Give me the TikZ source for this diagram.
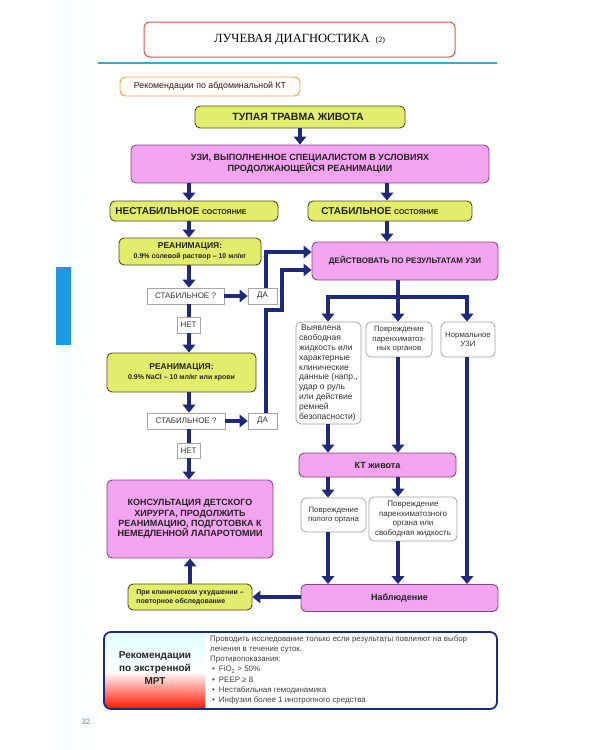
\documentclass[tikz,border=0pt]{standalone}
\usepackage{fontspec}
\setmainfont{Liberation Sans}
\newfontfamily\titlefont{Liberation Serif}
\usetikzlibrary{arrows.meta}
\definecolor{navy}{HTML}{1F2B7A}
\definecolor{yelfill}{HTML}{E3ED6C}
\definecolor{yeldraw}{HTML}{4E4E1C}
\definecolor{pinkfill}{HTML}{F3A4EF}
\definecolor{pinkdraw}{HTML}{84468A}
\definecolor{tabblue}{HTML}{1A9AE0}
\definecolor{lineblue}{HTML}{2EA8DE}
\definecolor{titlered}{HTML}{D9534F}
\definecolor{recorange}{HTML}{EFA35A}
\definecolor{txt}{HTML}{222222}
\newcommand\fs[2]{\fontsize{#1}{#2}\selectfont}
\begin{document}
\begin{tikzpicture}[x=1pt,y=-1pt,
  box/.style={inner sep=0pt, align=center, text=txt},
  yel/.style={box, fill=yelfill, draw=yeldraw, line width=0.9pt, rounded corners=5pt},
  pnk/.style={box, fill=pinkfill, draw=pinkdraw, line width=0.9pt, rounded corners=5pt},
  wb/.style={box, fill=white, draw=gray!75, line width=0.7pt, rounded corners=5pt, text=black!80},
  sq/.style={box, fill=white, draw=gray!70, line width=0.7pt, text=black!80},
  arr/.style={draw=navy, line width=3.6pt, -{Triangle[width=12.5pt,length=8pt]}},
  ln/.style={draw=navy, line width=3.6pt}]
\useasboundingbox (0,0) rectangle (600,750);
% page tint and tab
\shade[left color=blue!4!cyan!4, right color=white] (55,0) rectangle (100,750);
\fill[tabblue] (56,267) rectangle (71,345);
\node[text=gray, font=\fs{8}{9}] (pg) at (86,722) {32};
% header
\node[draw=titlered, line width=1pt, rounded corners=6pt, minimum width=311pt, minimum height=35pt, inner sep=0pt, fill=white] (title) at (299.5,39.5)
  {\titlefont\fs{12.5}{14}ЛУЧЕВАЯ ДИАГНОСТИКА\hspace{6pt}{\fs{8}{9}(2)}};
\draw[lineblue, line width=2pt] (98,63) -- (497,63);
\node[draw=recorange, fill=orange!3, line width=0.9pt, rounded corners=6pt, minimum width=180pt, minimum height=19pt, inner sep=0pt, font=\fs{8.8}{10}, text=txt] (rec) at (210,86.5) {Рекомендации по абдоминальной КТ};
% guides
\coordinate (xl) at (189,0);
\coordinate (xr) at (387,0);
\coordinate (xa) at (328,0);
\coordinate (xb) at (398,0);
\coordinate (xc) at (467,0);
\coordinate (xd) at (266,0);
\coordinate (xe) at (282,0);
\coordinate (ya) at (0,252);
\coordinate (yb) at (0,270);
\coordinate (yj) at (0,310);
\coordinate (ybr) at (0,297);
% nodes
\node[yel, minimum width=210pt, minimum height=22pt, font=\bfseries\fs{10.5}{12}] (tup) at (300,117) {ТУПАЯ ТРАВМА ЖИВОТА\kern4pt};
\node[pnk, minimum width=358pt, minimum height=38pt, font=\bfseries\fs{9}{11.5}] (uzi) at (310,164) {УЗИ, ВЫПОЛНЕННОЕ СПЕЦИАЛИСТОМ В УСЛОВИЯХ\\ПРОДОЛЖАЮЩЕЙСЯ РЕАНИМАЦИИ};
\node[yel, minimum width=168pt, minimum height=20pt, font=\bfseries\fs{10}{12}] (nestab) at (194,211) {НЕСТАБИЛЬНОЕ {\fs{7}{8}СОСТОЯНИЕ}\kern26pt};
\node[yel, minimum width=164pt, minimum height=20pt, font=\bfseries\fs{10}{12}] (stab) at (390,211) {СТАБИЛЬНОЕ {\fs{7}{8}СОСТОЯНИЕ}\kern20pt};
\node[yel, minimum width=142pt, minimum height=27pt, font=\bfseries\fs{7}{9.5}] (rean1) at (190,251.5) {{\fs{8.5}{10}РЕАНИМАЦИЯ:}\\0.9\% солевой раствор – 10 мл/кг};
\node[sq, minimum width=77pt, minimum height=16pt, font=\fs{8}{9}] (q1) at (185.5,296) {СТАБИЛЬНОЕ ?};
\node[sq, minimum width=29pt, minimum height=16pt, font=\fs{8}{9}] (da1) at (262.5,296) {ДА};
\node[sq, minimum width=23pt, minimum height=16pt, font=\fs{8}{9}] (net1) at (188.5,325) {НЕТ};
\node[yel, minimum width=149pt, minimum height=39pt, font=\bfseries\fs{7}{9.5}] (rean2) at (181.5,372.5) {{\fs{8.5}{10}РЕАНИМАЦИЯ:}\\0.9\% NaCl – 10 мл/кг или крови};
\node[sq, minimum width=78pt, minimum height=16pt, font=\fs{8}{9}] (q2) at (186,421) {СТАБИЛЬНОЕ ?};
\node[sq, minimum width=29pt, minimum height=16pt, font=\fs{8}{9}] (da2) at (262.5,421) {ДА};
\node[sq, minimum width=23pt, minimum height=15pt, font=\fs{8}{9}] (net2) at (188.5,450.5) {НЕТ};
\node[pnk, minimum width=166pt, minimum height=78pt, font=\bfseries\fs{9}{10.3}] (kons) at (190,519) {КОНСУЛЬТАЦИЯ ДЕТСКОГО\\ХИРУРГА, ПРОДОЛЖИТЬ\\РЕАНИМАЦИЮ, ПОДГОТОВКА К\\НЕМЕДЛЕННОЙ ЛАПАРОТОМИИ};
\node[yel, minimum width=124pt, minimum height=26pt, align=left, font=\bfseries\fs{7}{9}] (pri) at (190,597) {При клиническом ухудшении –\\повторное обследование};
\node[pnk, minimum width=186pt, minimum height=38pt, font=\bfseries\fs{8}{10}] (deist) at (405,261) {ДЕЙСТВОВАТЬ ПО РЕЗУЛЬТАТАМ УЗИ};
\node[wb, minimum width=65pt, minimum height=102pt, align=left, font=\fs{8.5}{9.8}] (A) at (328.5,373) {\hspace{2pt}Выявлена\\свободная\\жидкость или\\характерные\\клинические\\данные (напр.,\\удар о руль\\или действие\\ремней\\безопасности)};
\node[wb, minimum width=66pt, minimum height=35pt, font=\fs{7.8}{9.5}] (B) at (399,339.5) {Повреждение\\паренхиматоз-\\ных органов};
\node[wb, minimum width=54pt, minimum height=35pt, font=\fs{7.8}{9.5}] (C) at (468,339.5) {Нормальное\\УЗИ};
\node[pnk, minimum width=157pt, minimum height=24pt, font=\bfseries\fs{9}{10}] (kt) at (377.5,465) {КТ живота};
\node[wb, minimum width=65pt, minimum height=34pt, font=\fs{7.8}{9.5}] (D) at (333.5,515) {Повреждение\\полого органа};
\node[wb, minimum width=88pt, minimum height=44pt, font=\fs{8}{9.5}] (E) at (413,519) {Повреждение\\паренхиматозного\\органа или\\свободная жидкость};
\node[pnk, minimum width=197pt, minimum height=27pt, font=\bfseries\fs{9}{10}] (nabl) at (399.5,598) {Наблюдение};
% connectors
\draw[arr] (tup.south) -- (tup.south |- uzi.north);
\draw[arr] (uzi.south -| xl) -- (nestab.north -| xl);
\draw[arr] (uzi.south -| xr) -- (stab.north -| xr);
\draw[arr] (nestab.south -| xl) -- (rean1.north -| xl);
\draw[arr] (rean1.south -| xl) -- (q1.north -| xl);
\draw[arr] (q1.east) -- (da1.west);
\draw[ln] (q1.south -| xl) -- (net1.north -| xl);
\draw[arr] (net1.south -| xl) -- (rean2.north -| xl);
\draw[arr] (rean2.south -| xl) -- (q2.north -| xl);
\draw[arr] (q2.east) -- (da2.west);
\draw[ln] (q2.south -| xl) -- (net2.north -| xl);
\draw[arr] (net2.south -| xl) -- (kons.north -| xl);
\draw[arr] (pri.north) -- (kons.south);
\draw[arr] (nabl.west |- pri.east) -- (pri.east);
\draw[arr] (stab.south -| xr) -- (deist.north -| xr);
\draw[arr] (da1.north -| xd) |- (deist.west |- ya);
\draw[arr] (da2.north -| xd) -- (xd |- yj) -- (xe |- yj) |- (deist.west |- yb);
\draw[arr] (deist.south -| xb) -- (B.north -| xb);
\draw[arr] (deist.south -| xb) -- (xb |- ybr) -| (A.north -| xa);
\draw[arr] (deist.south -| xb) -- (xb |- ybr) -| (C.north -| xc);
\draw[arr] (A.south -| xa) -- (kt.north -| xa);
\draw[arr] (B.south -| xb) -- (kt.north -| xb);
\draw[arr] (C.south -| xc) -- (nabl.north -| xc);
\draw[arr] (kt.south -| xa) -- (D.north -| xa);
\draw[arr] (kt.south -| xb) -- (E.north -| xb);
\draw[arr] (D.south -| xa) -- (nabl.north -| xa);
\draw[arr] (E.south -| xb) -- (nabl.north -| xb);
% bottom box
\begin{scope}
\clip[rounded corners=7pt] (104,632) rectangle (497,709);
\fill[white] (104,632) rectangle (497,709);
\shade[top color=cyan!12, bottom color=white] (104,632) rectangle (205,672);
\shade[top color=white, bottom color=red!85!orange] (104,671.5) rectangle (205,709);
\end{scope}
\draw[navy, line width=1.8pt, rounded corners=7pt] (104,632) rectangle (497,709);
\node[box, font=\bfseries\fs{10}{13}, text=black!85] (mrt) at (155,668) {Рекомендации\\по экстренной\\МРТ};
\node[anchor=north west, inner sep=0pt, align=left, text=black!75, font=\fs{7.9}{10.3}] (mrttext) at (210,635)
{Проводить исследование только если результаты повлияют на выбор\\
лечения в течение суток.\\
Противопоказания:\\
\hspace{2pt}\textbullet\hspace{4pt}FiO\textsubscript{2} > 50\%\\
\hspace{2pt}\textbullet\hspace{4pt}PEEP ≥ 8\\
\hspace{2pt}\textbullet\hspace{4pt}Нестабильная гемодинамика\\
\hspace{2pt}\textbullet\hspace{4pt}Инфузия более 1 инотропного средства};
\end{tikzpicture}
\end{document}
